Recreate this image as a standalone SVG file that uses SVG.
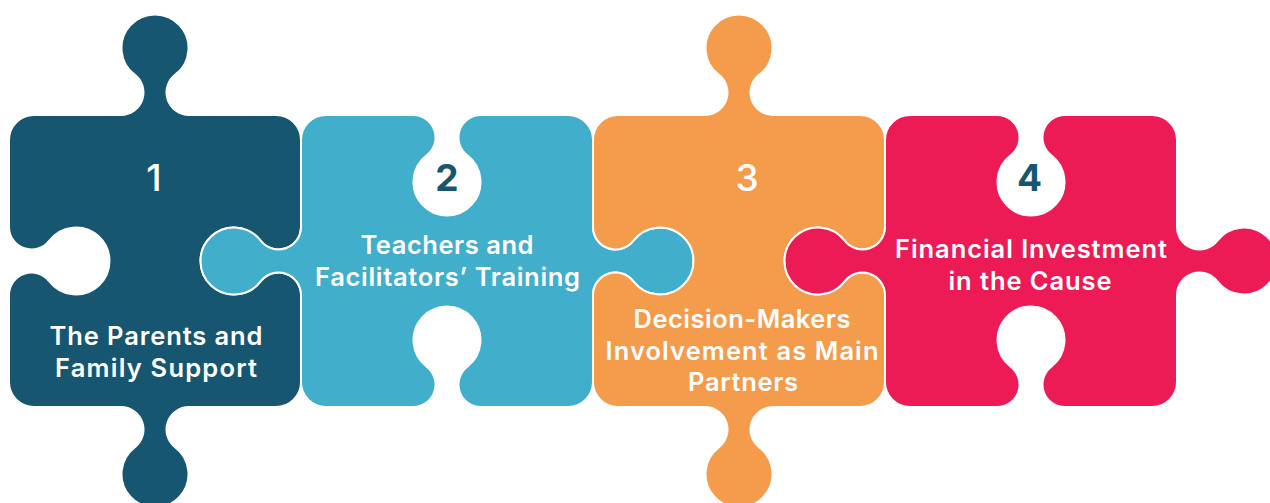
<svg xmlns="http://www.w3.org/2000/svg" width="1270" height="503" viewBox="0 0 1270 503">
  <style>
    .piece { stroke: #ffffff; stroke-width: 2; stroke-linejoin: round; }
    .p1 { fill: #175670; }
    .p2 { fill: #41aecb; }
    .p3 { fill: #f59b4c; }
    .p4 { fill: #ec1a55; }
    .num { font-family: Inter, "Liberation Sans", sans-serif; font-size: 37px; text-anchor: middle; }
    .num-light { fill: #ffffff; font-weight: 500; }
    .num-dark { fill: #175670; font-weight: 700; }
    .label { font-family: Inter, "Liberation Sans", sans-serif; font-size: 25.5px; font-weight: 600; fill: #ffffff; text-anchor: middle; }
  </style>
  <rect width="1270" height="503" fill="#ffffff"/>

  <!-- Piece 1: tabs top/bottom, sockets left/right -->
  <g id="piece-1">
    <path class="piece p1" d="M 34 115 L 121 115 A 22.5 22.5 0 0 0 134.66 74.62 A 33.5 33.5 0 1 1 175.34 74.62 A 22.5 22.5 0 0 0 189 115 L 276 115 A 25 25 0 0 1 301 140 L 301 227 A 22.5 22.5 0 0 1 260.62 240.66 A 33.5 33.5 0 1 0 260.62 281.34 A 22.5 22.5 0 0 1 301 295 L 301 382 A 25 25 0 0 1 276 407 L 189 407 A 22.5 22.5 0 0 0 175.34 447.38 A 33.5 33.5 0 1 1 134.66 447.38 A 22.5 22.5 0 0 0 121 407 L 34 407 A 25 25 0 0 1 9 382 L 9 295 A 22.5 22.5 0 0 1 49.38 281.34 A 33.5 33.5 0 1 0 49.38 240.66 A 22.5 22.5 0 0 1 9 227 L 9 140 A 25 25 0 0 1 34 115 Z"/>
    <text class="num num-light" x="154" y="191">1</text>
    <text class="label" x="156" y="345" textLength="213">The Parents and</text>
    <text class="label" x="156" y="377" textLength="202">Family Support</text>
  </g>

  <!-- Piece 2: sockets top/bottom, tabs left/right -->
  <g id="piece-2">
    <path class="piece p2" d="M 326 115 L 413 115 A 22.5 22.5 0 0 1 426.66 155.38 A 33.5 33.5 0 1 0 467.34 155.38 A 22.5 22.5 0 0 1 481 115 L 568 115 A 25 25 0 0 1 593 140 L 593 227 A 22.5 22.5 0 0 0 633.38 240.66 A 33.5 33.5 0 1 1 633.38 281.34 A 22.5 22.5 0 0 0 593 295 L 593 382 A 25 25 0 0 1 568 407 L 481 407 A 22.5 22.5 0 0 1 467.34 366.62 A 33.5 33.5 0 1 0 426.66 366.62 A 22.5 22.5 0 0 1 413 407 L 326 407 A 25 25 0 0 1 301 382 L 301 295 A 22.5 22.5 0 0 0 260.62 281.34 A 33.5 33.5 0 1 1 260.62 240.66 A 22.5 22.5 0 0 0 301 227 L 301 140 A 25 25 0 0 1 326 115 Z"/>
    <text class="num num-dark" x="447" y="191">2</text>
    <text class="label" x="447" y="254" textLength="173">Teachers and</text>
    <text class="label" x="447.5" y="286" textLength="265">Facilitators’ Training</text>
  </g>

  <!-- Piece 3: tabs top/bottom, sockets left/right -->
  <g id="piece-3">
    <path class="piece p3" d="M 618 115 L 705 115 A 22.5 22.5 0 0 0 718.66 74.62 A 33.5 33.5 0 1 1 759.34 74.62 A 22.5 22.5 0 0 0 773 115 L 860 115 A 25 25 0 0 1 885 140 L 885 227 A 22.5 22.5 0 0 1 844.62 240.66 A 33.5 33.5 0 1 0 844.62 281.34 A 22.5 22.5 0 0 1 885 295 L 885 382 A 25 25 0 0 1 860 407 L 773 407 A 22.5 22.5 0 0 0 759.34 447.38 A 33.5 33.5 0 1 1 718.66 447.38 A 22.5 22.5 0 0 0 705 407 L 618 407 A 25 25 0 0 1 593 382 L 593 295 A 22.5 22.5 0 0 1 633.38 281.34 A 33.5 33.5 0 1 0 633.38 240.66 A 22.5 22.5 0 0 1 593 227 L 593 140 A 25 25 0 0 1 618 115 Z"/>
    <text class="num num-light" x="747" y="191">3</text>
    <text class="label" x="742" y="328" textLength="217">Decision-Makers</text>
    <text class="label" x="742" y="360" textLength="273">Involvement as Main</text>
    <text class="label" x="743" y="391" textLength="110">Partners</text>
  </g>

  <!-- Piece 4: sockets top/bottom, tabs left/right -->
  <g id="piece-4">
    <path class="piece p4" d="M 910 115 L 997 115 A 22.5 22.5 0 0 1 1010.66 155.38 A 33.5 33.5 0 1 0 1051.34 155.38 A 22.5 22.5 0 0 1 1065 115 L 1152 115 A 25 25 0 0 1 1177 140 L 1177 227 A 22.5 22.5 0 0 0 1217.38 240.66 A 33.5 33.5 0 1 1 1217.38 281.34 A 22.5 22.5 0 0 0 1177 295 L 1177 382 A 25 25 0 0 1 1152 407 L 1065 407 A 22.5 22.5 0 0 1 1051.34 366.62 A 33.5 33.5 0 1 0 1010.66 366.62 A 22.5 22.5 0 0 1 997 407 L 910 407 A 25 25 0 0 1 885 382 L 885 295 A 22.5 22.5 0 0 0 844.62 281.34 A 33.5 33.5 0 1 1 844.62 240.66 A 22.5 22.5 0 0 0 885 227 L 885 140 A 25 25 0 0 1 910 115 Z"/>
    <text class="num num-dark" x="1029.5" y="191">4</text>
    <text class="label" x="1031" y="258" textLength="272">Financial Investment</text>
    <text class="label" x="1030" y="290" textLength="163">in the Cause</text>
  </g>

  <!-- no connectors: the pieces interlock directly -->
  <g id="connectors"/>
</svg>
